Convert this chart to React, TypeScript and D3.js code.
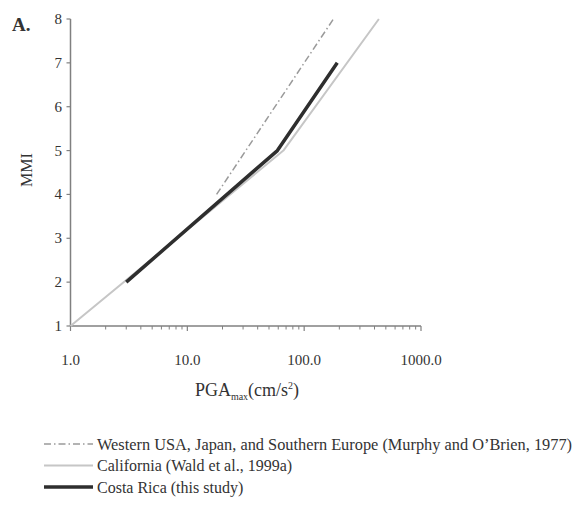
import React from "react";
import * as d3 from "d3";

const yTicks = [1, 2, 3, 4, 5, 6, 7, 8];
const xTickValues = [1, 10, 100, 1000];
const xTickLabels = ["1.0", "10.0", "100.0", "1000.0"];

const murphyPGA = [17.8, 178];
const murphyMMI = [4, 8];
const waldPGA = [1, 66.4, 436];
const waldMMI = [1, 5, 8];
const costaPGA = [3, 59, 192];
const costaMMI = [2, 5, 7];

const legendLabels = [
  "Western USA, Japan, and Southern Europe (Murphy and O\u2019Brien, 1977)",
  "California (Wald et al., 1999a)",
  "Costa Rica (this study)",
];

export default function App() {
  const W = 575, H = 512;
  const x = d3.scaleLog().domain([1, 1000]).range([70.5, 421]);
  const y = d3.scaleLinear().domain([1, 8]).range([326, 19]);
  const axisColor = "#808080";
  const textColor = "#333";
  const font = "Liberation Serif";
  const ts = { fontFamily: font };

  const mk = (xs: number[], ys: number[]) =>
    d3.line<number>().x((_, i) => x(xs[i])).y((_, i) => y(ys[i]))(xs.map((_, i) => i)) || "";

  const minor: number[] = [];
  for (let dec = 1; dec < 1000; dec *= 10) for (let k = 2; k <= 9; k++) minor.push(dec * k);

  const series = [
    { d: mk(murphyPGA, murphyMMI), stroke: "#9a9a9a", w: 1.5, dash: "7,3,1.5,3" },
    { d: mk(waldPGA, waldMMI), stroke: "#c6c6c6", w: 2, dash: undefined },
    { d: mk(costaPGA, costaMMI), stroke: "#2e2e2e", w: 3.5, dash: undefined },
  ];

  return (
    <svg width={W} height={H} style={{ position: "absolute", left: 0, top: 0, background: "#fff", fontFamily: font }}>
      <text x={12} y={31} fontSize={19} fontWeight="bold" fill={textColor} style={ts}>A.</text>
      {/* y axis */}
      <line x1={x(1)} x2={x(1)} y1={y(8)} y2={y(1)} stroke={axisColor} strokeWidth={1.5} />
      {yTicks.map((t) => (
        <g key={t}>
          <line x1={x(1) - 4} x2={x(1)} y1={y(t)} y2={y(t)} stroke={axisColor} strokeWidth={1.2} />
          <text x={62} y={y(t) + 5} fontSize={15} textAnchor="end" fill={textColor} style={ts}>{t}</text>
        </g>
      ))}
      {/* x axis */}
      <line x1={x(1)} x2={x(1000)} y1={y(1)} y2={y(1)} stroke={axisColor} strokeWidth={1.5} />
      {xTickValues.map((t, i) => (
        <g key={t}>
          <line x1={x(t)} x2={x(t)} y1={y(1)} y2={y(1) + 5} stroke={axisColor} strokeWidth={1.2} />
          <text x={x(t)} y={365} fontSize={15} textAnchor="middle" fill={textColor} style={ts}>{xTickLabels[i]}</text>
        </g>
      ))}
      {minor.map((t) => (
        <line key={t} x1={x(t)} x2={x(t)} y1={y(1)} y2={y(1) + 3.5} stroke={axisColor} strokeWidth={1} />
      ))}
      {/* axis titles */}
      <text x={247} y={396} fontSize={18} textAnchor="middle" fill={textColor} style={ts}>
        PGA<tspan fontSize={10} dy={4}>max</tspan>
        <tspan dy={-4}>(cm/s</tspan>
        <tspan fontSize={10} dy={-7}>2</tspan>
        <tspan dy={7}>)</tspan>
      </text>
      <text transform="translate(32,170) rotate(-90)" fontSize={16} textAnchor="middle" fill={textColor} style={ts}>MMI</text>
      {/* series */}
      {series.map((s, i) => (
        <path key={i} d={s.d} fill="none" stroke={s.stroke} strokeWidth={s.w} strokeDasharray={s.dash} strokeLinecap="butt" strokeLinejoin="round" />
      ))}
      {/* legend */}
      {legendLabels.map((l, i) => {
        const yy = 444 + i * 21.5;
        const s = series[i];
        return (
          <g key={i}>
            <line x1={44} x2={93} y1={yy} y2={yy} stroke={s.stroke} strokeWidth={s.w} strokeDasharray={s.dash} />
            <text x={97} y={yy + 5.5} fontSize={16} fill={textColor} style={ts} textLength={i === 0 ? 475 : undefined} lengthAdjust="spacingAndGlyphs">{l}</text>
          </g>
        );
      })}
    </svg>
  );
}
